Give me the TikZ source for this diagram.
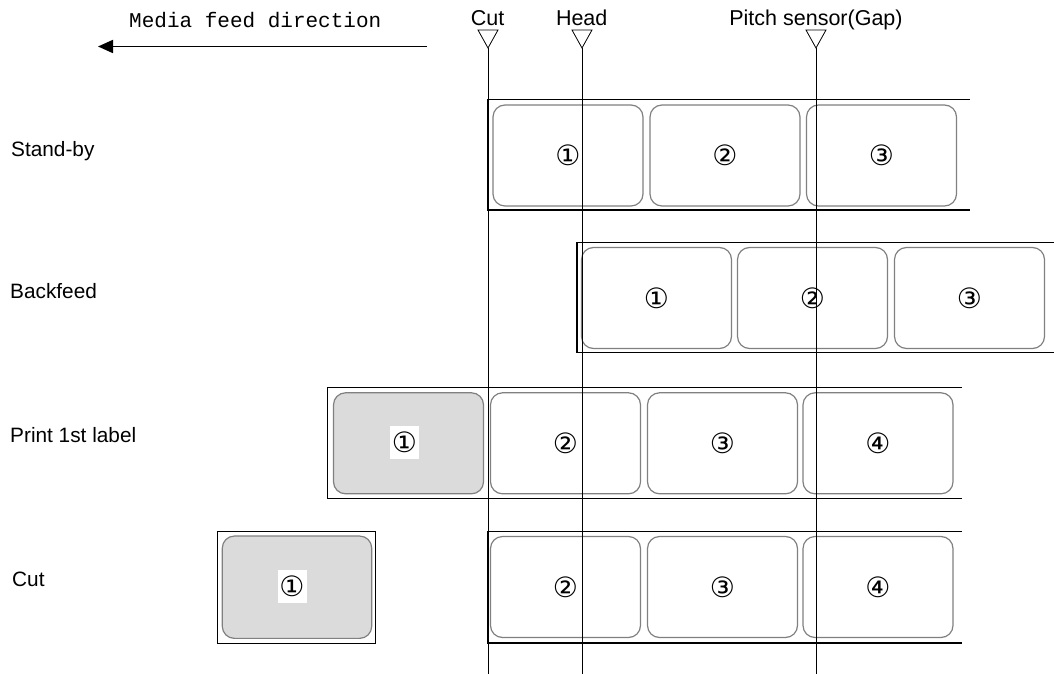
\documentclass[tikz,border=0pt]{standalone}
\usepackage{fontspec}
\setmainfont{Liberation Sans}
\newfontfamily\monof{Liberation Mono}
\newfontfamily\numf{DejaVu Sans}
\usetikzlibrary{arrows.meta}
\begin{document}
\begin{tikzpicture}[x=1pt,y=-1pt,
  lab/.style={draw=black!50,line width=1.2pt,rounded corners=12pt,minimum width=150pt,minimum height=101pt,inner sep=0pt,font=\numf\fontsize{28}{32}\selectfont},
  used/.style={lab,fill=black!14},
  num/.style={fill=white,inner sep=0pt,minimum width=29pt,minimum height=33pt,font=\numf\fontsize{28}{32}\selectfont},
  strip/.style={line width=1.3pt},
  guide/.style={line width=1pt},
  trimark/.style={draw,line width=0.8pt,fill=white},
  txt/.style={font=\fontsize{20.8}{24}\selectfont,inner sep=0pt},
  toptxt/.style={font=\fontsize{21.5}{24}\selectfont,inner sep=0pt,anchor=base},
]
\useasboundingbox (0,0) rectangle (1054,674);
% direction
\node[txt,font=\monof\fontsize{21}{24}\selectfont,anchor=base west] (dir) at (129,28) {Media feed direction};
\coordinate (a1) at (427,46.5);
\coordinate (a2) at (98,46.5);
\draw[line width=1.8pt,-{Triangle[length=15pt,width=13pt]}] (a1) -- (a2);
% row labels
\node[txt,anchor=base west] (r1) at (11,156.5) {Stand-by};
\node[txt,anchor=base west] (r2) at (10,298) {Backfeed};
\node[txt,anchor=base west] (r3) at (10,442.5) {Print 1st label};
\node[txt,anchor=base west] (r4) at (12,586) {Cut};
% strips
\draw[strip] (970,99.3) -- (487.5,99.3) -- (487.5,210) -- (970,210);
\draw[strip] (1054,242.7) -- (577,242.7) -- (577,352.7) -- (1054,352.7);
\draw[strip] (962,387.3) -- (327.5,387.3) -- (327.5,498.3) -- (962,498.3);
\draw[strip] (962,531.7) -- (488,531.7) -- (488,643) -- (962,643);
\draw[strip] (217.7,531.7) rectangle (375.7,643.3);
% row 1
\node[lab] (s1) at (568,155.5) {①};
\node[lab] (s2) at (725,155.5) {②};
\node[lab] (s3) at (881.5,155.5) {③};
% row 2
\node[lab] (b1) at (656.5,298) {①};
\node[lab] (b2) at (812.5,298) {②};
\node[lab] (b3) at (969.5,298) {③};
% row 3
\node[used] (p1) at (408.5,443.3) {};
\node[num] (p1n) at (404.5,442.3) {①};
\node[lab] (p2) at (565.5,443.3) {②};
\node[lab] (p3) at (722.5,443.3) {③};
\node[lab] (p4) at (878,443.3) {④};
% row 4
\node[used,minimum width=149.4pt,minimum height=102.3pt] (c1) at (297,587.2) {};
\node[num] (c1n) at (292,586.3) {①};
\node[lab] (c2) at (565.5,587) {②};
\node[lab] (c3) at (722.5,587) {③};
\node[lab] (c4) at (878,587) {④};
% guides
\node[toptxt] (tcut) at (487.5,26) {Cut};
\node[toptxt] (thead) at (581.7,26) {Head};
\node[toptxt] (tpitch) at (816,26) {Pitch sensor(Gap)};
\foreach \n/\x in {gc/488,gh/582,gp/816}{
  \coordinate (\n t) at (\x,48);
  \coordinate (\n b) at (\x,674);
  \draw[trimark] (\x-10,30) -- (\x+10,30) -- (\n t) -- cycle;
  \draw[guide] (\n t) -- (\n b);
}
\end{tikzpicture}
\end{document}
